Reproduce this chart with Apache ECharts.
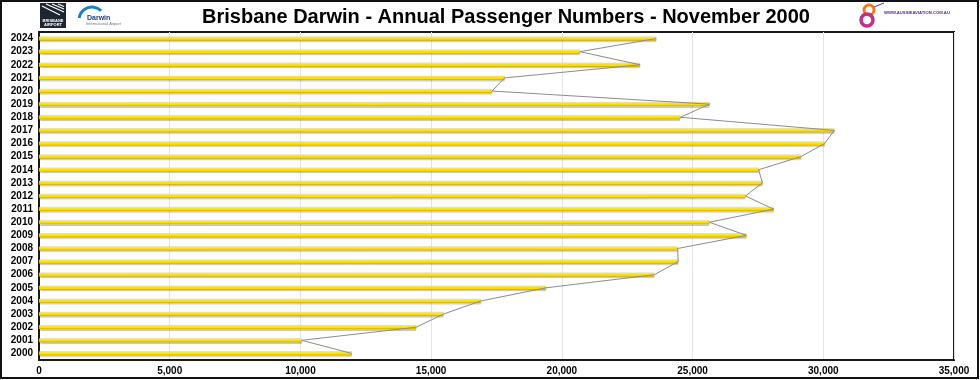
<!DOCTYPE html>
<html>
<head>
<meta charset="utf-8">
<style>
  html, body { margin: 0; padding: 0; background: #fff; }
  #chart { width: 980px; height: 380px; }
</style>
<script src="https://cdn.jsdelivr.net/npm/echarts@6/dist/echarts.min.js"></script>
</head>
<body>
<div id="chart"></div>
<script>
const years = ['2000','2001','2002','2003','2004','2005','2006','2007','2008','2009','2010','2011','2012','2013','2014','2015','2016','2017','2018','2019','2020','2021','2022','2023','2024'];
const passengers = [11960, 10050, 14430, 15470, 16900, 19390, 23540, 24450, 24430, 27060, 25640, 28100, 27020, 27670, 27530, 29140, 30050, 30420, 24530, 25650, 17330, 17810, 22990, 20690, 23610];
const xTicks = [0, 5000, 10000, 15000, 20000, 25000, 30000, 35000];
const titleText = 'Brisbane Darwin - Annual Passenger Numbers - November 2000';

const chart = echarts.init(document.getElementById('chart'), null, { renderer: 'canvas' });

const barColor = {
  type: 'linear', x: 0, y: 0, x2: 0, y2: 1,
  colorStops: [
    { offset: 0, color: '#fffab0' },
    { offset: 0.3, color: '#fff020' },
    { offset: 0.7, color: '#ffdc00' },
    { offset: 1, color: '#c9a200' }
  ]
};

chart.setOption({
  animation: false,
  backgroundColor: '#ffffff',
  grid: {
    left: 39, right: 26, top: 32, bottom: 20,
    show: true,
    borderColor: '#1a1a1a',
    borderWidth: 2,
    containLabel: false
  },
  xAxis: {
    type: 'value',
    min: xTicks[0],
    max: xTicks[xTicks.length - 1],
    interval: 5000,
    axisLine: { show: true, lineStyle: { color: '#1a1a1a', width: 2 } },
    axisTick: { show: false },
    splitLine: { show: true, lineStyle: { color: '#e4e4e4', width: 1 } },
    axisLabel: {
      color: '#000',
      fontFamily: 'Liberation Sans, Arial, sans-serif',
      fontWeight: 'bold',
      fontSize: 10,
      margin: 6,
      formatter: v => v.toLocaleString('en-US')
    }
  },
  yAxis: {
    type: 'category',
    data: years,
    axisLine: { show: true, lineStyle: { color: '#1a1a1a', width: 2 } },
    axisTick: { show: false },
    splitLine: { show: false },
    axisLabel: {
      color: '#000',
      fontFamily: 'Liberation Sans, Arial, sans-serif',
      fontWeight: 'bold',
      fontSize: 10,
      margin: 6
    }
  },
  series: [
    {
      type: 'bar',
      data: passengers,
      barWidth: 4,
      itemStyle: {
        color: barColor,
        borderColor: '#c9a200',
        borderWidth: 0.3,
        shadowColor: 'rgba(0,0,0,0.18)',
        shadowBlur: 1,
        shadowOffsetY: 1.5
      },
      z: 2
    },
    {
      type: 'line',
      data: passengers,
      symbol: 'none',
      lineStyle: { color: '#8c8c8c', width: 1 },
      z: 3
    }
  ],
  graphic: [
    // outer frame
    { type: 'rect', shape: { x: 1, y: 1, width: 977, height: 377 }, style: { fill: 'none', stroke: '#111', lineWidth: 2 }, z: 100 },
    // title
    { type: 'text', x: 506, y: 17, style: { text: titleText, fill: '#000', fontSize: 20, fontWeight: 'bold', fontFamily: 'Liberation Sans, Arial, sans-serif', align: 'center', verticalAlign: 'middle' }, z: 20 },
    // Brisbane Airport logo
    { type: 'rect', shape: { x: 40, y: 3, width: 26, height: 25 }, style: { fill: '#1f2633' }, z: 10 },
    { type: 'polyline', shape: { points: [[46, 4], [64, 12]] }, style: { stroke: '#fff', lineWidth: 1.2 }, z: 11 },
    { type: 'polyline', shape: { points: [[52, 4], [64, 9]] }, style: { stroke: '#fff', lineWidth: 1.2 }, z: 11 },
    { type: 'polyline', shape: { points: [[58, 4], [64, 6.5]] }, style: { stroke: '#fff', lineWidth: 1.2 }, z: 11 },
    { type: 'polyline', shape: { points: [[42, 6], [60, 15]] }, style: { stroke: '#fff', lineWidth: 1.2 }, z: 11 },
    { type: 'text', x: 53, y: 19, style: { text: 'BRISBANE', fill: '#fff', fontSize: 4, fontWeight: 'bold', fontFamily: 'Arial', align: 'center' }, z: 11 },
    { type: 'text', x: 53, y: 23, style: { text: 'AIRPORT', fill: '#fff', fontSize: 4, fontWeight: 'bold', fontFamily: 'Arial', align: 'center' }, z: 11 },
    // Darwin logo
    { type: 'arc', shape: { cx: 92, cy: 20, r: 13, startAngle: Math.PI * 1.05, endAngle: Math.PI * 1.75 }, style: { stroke: '#1f7fc4', lineWidth: 3, fill: 'none' }, z: 10 },
    { type: 'text', x: 87, y: 15, style: { text: 'Darwin', fill: '#1d3f73', fontSize: 7, fontWeight: 'bold', fontFamily: 'Arial' }, z: 11 },
    { type: 'text', x: 86, y: 22, style: { text: 'International Airport', fill: '#6a7a8a', fontSize: 4, fontFamily: 'Arial' }, z: 11 },
    // Aussie aviation logo
    { type: 'circle', shape: { cx: 869, cy: 10, r: 5 }, style: { fill: 'none', stroke: '#f07a1a', lineWidth: 3 }, z: 11 },
    { type: 'circle', shape: { cx: 867, cy: 20, r: 6 }, style: { fill: 'none', stroke: '#c0308a', lineWidth: 3.5 }, z: 11 },
    { type: 'polyline', shape: { points: [[874, 7], [884, 3]] }, style: { stroke: '#6a2a9a', lineWidth: 1 }, z: 11 },
    { type: 'text', x: 884, y: 13, style: { text: 'WWW.AUSSIEAVIATION.COM.AU', fill: '#5a2a8a', fontSize: 4.2, fontWeight: 'bold', fontFamily: 'Arial', verticalAlign: 'middle' }, z: 11 }
  ]
});
</script>
</body>
</html>
